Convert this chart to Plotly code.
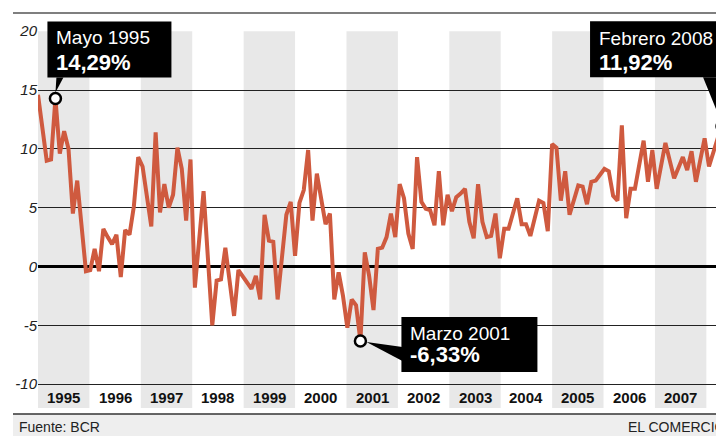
import plotly.graph_objects as go

# ---------------- data ----------------
years = [str(y) for y in range(1995, 2008)]
values = [
    14.6, 11.8, 9.0, 9.1, 14.29, 9.6, 11.5, 10.0, 4.5, 7.3, 3.4, -0.4,      # 1995
    -0.3, 1.5, -0.4, 3.2, 2.5, 1.9, 2.7, -0.9, 3.1, 2.7, 5.1, 9.3,          # 1996
    8.5, 5.8, 3.4, 11.4, 4.6, 7.0, 5.0, 6.1, 10.1, 8.3, 3.9, 9.1,           # 1997
    -1.8, 2.3, 6.4, 0.7, -5.0, -1.2, -1.1, 1.6, -1.3, -4.2, -0.3, -0.8,     # 1998
    -1.3, -1.9, -0.8, -2.8, 4.4, 2.2, 2.1, -2.8, 0.8, 4.4, 5.5, 0.9,        # 1999
    5.4, 6.5, 9.9, 3.9, 7.9, 5.8, 3.6, 4.5, -2.8, -0.5, -2.5, -5.2,         # 2000
    -2.8, -3.3, -6.33, 1.2, -0.8, -3.7, 1.5, 1.6, 2.5, 4.5, 2.5, 7.0,       # 2001
    5.8, 2.8, 1.5, 9.3, 5.5, 4.9, 4.8, 3.5, 8.1, 3.5, 6.1, 4.7,             # 2002
    5.9, 6.2, 6.6, 3.8, 2.4, 7.0, 3.8, 2.5, 2.6, 4.5, 0.7, 3.2,             # 2003
    3.2, 4.5, 5.8, 3.6, 3.6, 2.6, 4.1, 5.6, 5.4, 3.0, 10.4, 10.1,           # 2004
    5.6, 8.1, 4.4, 5.7, 6.9, 6.8, 5.3, 7.2, 7.3, 7.8, 8.3, 8.1,             # 2005
    6.0, 5.6, 12.0, 4.1, 6.6, 6.6, 8.5, 10.7, 7.2, 9.9, 6.6, 8.5,           # 2006
    10.5, 9.0, 7.5, 8.4, 9.3, 8.2, 9.8, 7.2, 9.2, 10.9, 8.5, 9.8,           # 2007
    10.9, 11.92,                                                            # 2008
]
months = list(range(len(values)))
y_ticks = [-10, -5, 0, 5, 10, 15, 20]

callout_index = [4, 74, 157]
callout_titles = ["Mayo 1995", "Marzo 2001", "Febrero 2008"]

source_text = "Fuente: BCR"
brand_text = "EL COMERCIO"

# ---------------- style ----------------
OFF = 8                      # page body margin of the html page
W, H = 724 - OFF, 436 - OFF
ML, MR, MT, MB = 38 - OFF, 0, 31 - OFF, 28
PLOT_W = W - ML - MR
PLOT_H = H - MT - MB
PX_PER_MONTH = 4.357
X_RANGE = [0, PLOT_W / PX_PER_MONTH]
Y_RANGE = [-12.03, 20.02]
BAND = 11.8
LINE_COLOR = "#cf5a3f"
BAND_COLOR = "#e8e8e8"
FONT = "Liberation Sans, Arial, sans-serif"


def px_to_paper_x(px):          # px = reference-screenshot pixel
    return (px - OFF - ML) / PLOT_W


def px_to_paper_y(py):
    return (H - MB - (py - OFF)) / PLOT_H


def data_to_paper_x(v):
    return (v - X_RANGE[0]) / (X_RANGE[1] - X_RANGE[0])


def data_to_paper_y(v):
    return (v - Y_RANGE[0]) / (Y_RANGE[1] - Y_RANGE[0])


# callout geometry, pixel offsets relative to the marked point (y up)
box_offsets = [(-8, 116, 21, 77), (41, 177, -31, 24), (-132, 20, 49, 105)]
pointer_paths = [
    "M 1,21 L 8,21 L 0,6 Z",
    "M 6,-1 L 42,-6 L 42,-20 Z",
    "M -19,49 L -6,49 L -1,5 Z",
]
text_shift = [(-1, 61, 36), (48, 7, -14), (-125, 88, 64)]

fig = go.Figure()

fig.add_trace(go.Scatter(
    x=months, y=values, mode="lines",
    line=dict(color=LINE_COLOR, width=4),
    hoverinfo="skip", showlegend=False,
))
fig.add_trace(go.Scatter(
    x=[months[i] for i in callout_index],
    y=[values[i] for i in callout_index],
    mode="markers",
    marker=dict(size=11, color="white", line=dict(color="black", width=2.5)),
    cliponaxis=False, hoverinfo="skip", showlegend=False,
))

shapes = []
annotations = []

# alternating year bands + year labels
for k, yr in enumerate(years):
    if k % 2 == 0:
        shapes.append(dict(type="rect", xref="x", yref="y",
                           x0=k * BAND, x1=(k + 1) * BAND,
                           y0=Y_RANGE[0], y1=20,
                           fillcolor=BAND_COLOR, line=dict(width=0), layer="below"))
    annotations.append(dict(x=(k + 0.5) * BAND, y=-11.1, xref="x", yref="y",
                            text=yr, showarrow=False,
                            font=dict(family=FONT, size=15, color="#111", weight="bold"),
                            xanchor="center", yanchor="middle"))

# top rule
shapes.append(dict(type="line", xref="paper", yref="paper",
                   x0=px_to_paper_x(13), x1=1, y0=px_to_paper_y(13), y1=px_to_paper_y(13),
                   line=dict(color="#555", width=1.5)))
# footer
shapes.append(dict(type="rect", xref="paper", yref="paper",
                   x0=px_to_paper_x(13), x1=1.0, y0=px_to_paper_y(437), y1=px_to_paper_y(414),
                   fillcolor="#eeeeee", line=dict(width=0)))
shapes.append(dict(type="line", xref="paper", yref="paper",
                   x0=px_to_paper_x(13), x1=1, y0=px_to_paper_y(414), y1=px_to_paper_y(414),
                   line=dict(color="#333", width=1.3)))
annotations.append(dict(x=px_to_paper_x(17), y=px_to_paper_y(427), xref="paper", yref="paper",
                        text=source_text, showarrow=False, xanchor="left", yanchor="middle",
                        font=dict(family=FONT, size=14, color="#222")))
annotations.append(dict(x=px_to_paper_x(728), y=px_to_paper_y(427), xref="paper", yref="paper",
                        text=brand_text, showarrow=False, xanchor="right", yanchor="middle",
                        font=dict(family=FONT, size=14, color="#222")))

# callouts
for n, i in enumerate(callout_index):
    xv, yv = months[i], values[i]
    ax, ay = data_to_paper_x(xv), data_to_paper_y(yv)
    bx0, bx1, by0, by1 = box_offsets[n]
    shapes.append(dict(type="rect", xref="paper", yref="paper",
                       xsizemode="pixel", ysizemode="pixel",
                       xanchor=ax, yanchor=ay,
                       x0=bx0, x1=bx1, y0=by0, y1=by1,
                       fillcolor="black", line=dict(width=0), layer="above"))
    shapes.append(dict(type="path", xref="paper", yref="paper",
                       xsizemode="pixel", ysizemode="pixel",
                       xanchor=ax, yanchor=ay,
                       path=pointer_paths[n],
                       fillcolor="black", line=dict(width=0), layer="above"))
    dx, dy1, dy2 = text_shift[n]
    value_text = f"{yv:.2f}".replace(".", ",") + "%"
    annotations.append(dict(x=xv, y=yv, xref="x", yref="y", text=callout_titles[n],
                            showarrow=False, xanchor="left", yanchor="middle",
                            xshift=dx, yshift=dy1,
                            font=dict(family=FONT, size=19, color="white")))
    annotations.append(dict(x=xv, y=yv, xref="x", yref="y", text=value_text,
                            showarrow=False, xanchor="left", yanchor="middle",
                            xshift=dx, yshift=dy2,
                            font=dict(family=FONT, size=22, color="white", weight="bold")))

fig.update_layout(
    width=W, height=H,
    margin=dict(l=ML, r=MR, t=MT, b=MB),
    paper_bgcolor="white", plot_bgcolor="white",
    shapes=shapes, annotations=annotations,
    showlegend=False,
    xaxis=dict(range=X_RANGE, showgrid=False, showticklabels=False, zeroline=False,
               showline=False, ticks=""),
    yaxis=dict(range=Y_RANGE, tickvals=y_ticks, ticktext=[str(v) for v in y_ticks],
               showgrid=True, gridcolor="#222", gridwidth=1.3,
               zeroline=True, zerolinecolor="black", zerolinewidth=3,
               showline=False, ticks="",
               tickfont=dict(family=FONT, size=15, color="#222", style="italic")),
)

fig.write_html("out.html")
